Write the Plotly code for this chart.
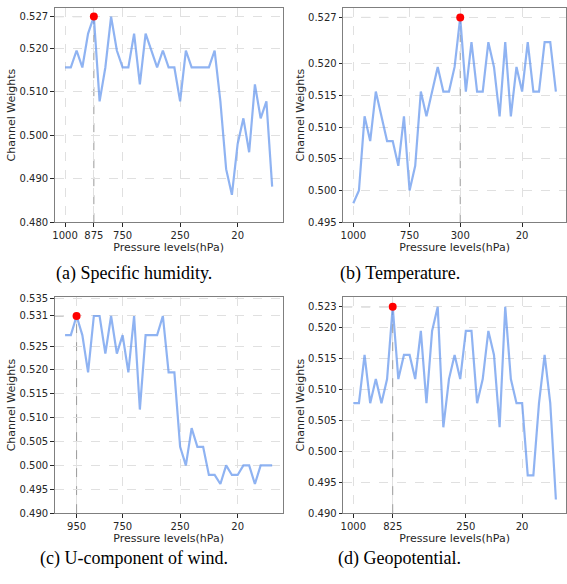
import plotly.graph_objects as go

# Pressure levels (hPa), 37 levels
levels = [1000, 975, 950, 925, 900, 875, 850, 825, 800, 775, 750, 700, 650, 600,
          550, 500, 450, 400, 350, 300, 250, 225, 200, 175, 150, 125, 100, 70,
          50, 30, 20, 10, 7, 5, 3, 2, 1]

humidity = [0.5156, 0.5156, 0.5195, 0.5156, 0.5234, 0.5273, 0.5078, 0.5156, 0.5273,
            0.5195, 0.5156, 0.5156, 0.5234, 0.5117, 0.5234, 0.5195, 0.5156, 0.5195,
            0.5156, 0.5156, 0.5078, 0.5195, 0.5156, 0.5156, 0.5156, 0.5156, 0.5195,
            0.5078, 0.4922, 0.4863, 0.4980, 0.5039, 0.4961, 0.5117, 0.5039, 0.5078,
            0.4882]

temperature = [0.4980, 0.5000, 0.5117, 0.5078, 0.5156, 0.5117, 0.5078, 0.5078, 0.5039,
               0.5117, 0.5000, 0.5039, 0.5156, 0.5117, 0.5156, 0.5195, 0.5156, 0.5156,
               0.5195, 0.5273, 0.5156, 0.5234, 0.5156, 0.5156, 0.5234, 0.5195, 0.5117,
               0.5234, 0.5117, 0.5195, 0.5156, 0.5234, 0.5156, 0.5156, 0.5234, 0.5234,
               0.5156]

u_wind = [0.5273, 0.5273, 0.5313, 0.5273, 0.5195, 0.5313, 0.5313, 0.5234, 0.5313,
          0.5234, 0.5273, 0.5195, 0.5313, 0.5117, 0.5273, 0.5273, 0.5273, 0.5313,
          0.5195, 0.5195, 0.5039, 0.5000, 0.5078, 0.5039, 0.5039, 0.4980, 0.4980,
          0.4961, 0.5000, 0.4980, 0.4980, 0.5000, 0.5000, 0.4961, 0.5000, 0.5000,
          0.5000]

geopotential = [0.5078, 0.5078, 0.5156, 0.5078, 0.5117, 0.5078, 0.5117, 0.5234, 0.5117,
                0.5156, 0.5156, 0.5117, 0.5195, 0.5078, 0.5195, 0.5234, 0.5039, 0.5117,
                0.5156, 0.5117, 0.5195, 0.5195, 0.5078, 0.5117, 0.5195, 0.5156, 0.5039,
                0.5234, 0.5117, 0.5078, 0.5078, 0.4961, 0.4961, 0.5078, 0.5156, 0.5078,
                0.4922]

captions = ["(a) Specific humidity.", "(b) Temperature.",
            "(c) U-component of wind.", "(d) Geopotential."]

xtick_idx = [[0, 5, 10, 20, 30], [0, 10, 19, 30], [2, 10, 20, 30], [0, 7, 20, 30]]
ytick_base = [[0.480, 0.490, 0.500, 0.510, 0.520],
              [0.495, 0.500, 0.505, 0.510, 0.515, 0.520],
              [0.490, 0.495, 0.500, 0.505, 0.510, 0.515, 0.520, 0.525, 0.535],
              [0.490, 0.495, 0.500, 0.505, 0.510, 0.515, 0.520]]
y_ranges = [[0.480, 0.5293], [0.495, 0.5288], [0.490, 0.5353], [0.490, 0.5250]]

series = [humidity, temperature, u_wind, geopotential]

W, H = 567, 584
panels = [  # left, right, top, bottom in pixels
    (52, 281, 4, 222),
    (342, 566, 4, 222),
    (52, 281, 298, 518),
    (342, 566, 298, 518),
]
cap_pos = [(132, 274), (399, 274), (132, 564), (399, 564)]

x_range = [-1.8, 37.8]
line_color = "rgba(100,149,237,0.72)"
frame_color = "#7f7f7f"
text_color = "#262626"

fig = go.Figure()
layout = dict(width=W, height=H, margin=dict(l=0, r=0, t=0, b=0),
              plot_bgcolor="white", paper_bgcolor="white", showlegend=False,
              font=dict(family="DejaVu Sans", color=text_color, size=10))
shapes = []
annotations = []

for k, vals in enumerate(series):
    xa = "x" if k == 0 else f"x{k+1}"
    ya = "y" if k == 0 else f"y{k+1}"
    xkey = "xaxis" if k == 0 else f"xaxis{k+1}"
    ykey = "yaxis" if k == 0 else f"yaxis{k+1}"
    idx = list(range(len(vals)))
    vmax = max(vals)
    imax = vals.index(vmax)
    fig.add_trace(go.Scatter(x=idx, y=vals, mode="lines", xaxis=xa, yaxis=ya,
                             line=dict(color=line_color, width=2.2)))
    fig.add_trace(go.Scatter(x=[imax], y=[vmax], mode="markers", xaxis=xa, yaxis=ya,
                             marker=dict(color="red", size=8)))
    yt = sorted(ytick_base[k] + [vmax])
    l, r, t, b = panels[k]
    layout[xkey] = dict(domain=[l / W, r / W], anchor=ya, range=x_range,
                        tickmode="array", tickvals=xtick_idx[k],
                        ticktext=[str(levels[i]) for i in xtick_idx[k]],
                        showgrid=True, gridcolor="#e0e0e0", griddash="dash", gridwidth=0.8,
                        showline=True, linecolor=frame_color, linewidth=1, mirror=True,
                        ticks="outside", ticklen=3.5, tickcolor=text_color,
                        zeroline=False, tickfont=dict(size=10),
                        title=dict(text="Pressure levels(hPa)", font=dict(size=11), standoff=3))
    layout[ykey] = dict(domain=[1 - b / H, 1 - t / H], anchor=xa, range=y_ranges[k],
                        tickmode="array", tickvals=yt, ticktext=[f"{v:.3f}" for v in yt],
                        showgrid=True, gridcolor="#e0e0e0", griddash="dash", gridwidth=0.8,
                        showline=True, linecolor=frame_color, linewidth=1, mirror=True,
                        ticks="outside", ticklen=3.5, tickcolor=text_color,
                        zeroline=False, tickfont=dict(size=10),
                        title=dict(text="Channel Weights", font=dict(size=11), standoff=1))
    dash = dict(color="#999999", width=1, dash="dash")
    shapes.append(dict(type="line", xref=xa, yref=ya, x0=x_range[0], x1=imax,
                       y0=vmax, y1=vmax, line=dash, layer="below"))
    shapes.append(dict(type="line", xref=xa, yref=ya, x0=imax, x1=imax,
                       y0=y_ranges[k][0], y1=vmax, line=dash, layer="below"))
    cx, cy = cap_pos[k]
    annotations.append(dict(text=captions[k], xref="paper", yref="paper",
                            x=cx / W, y=1 - cy / H, showarrow=False,
                            xanchor="center", yanchor="middle",
                            font=dict(family="Liberation Serif", size=18, color="black")))

layout["shapes"] = shapes
layout["annotations"] = annotations
fig.update_layout(**layout)
fig.write_html("out.html", config={"displayModeBar": False},
               post_script="document.body.style.margin='0';document.body.style.padding='0';")
